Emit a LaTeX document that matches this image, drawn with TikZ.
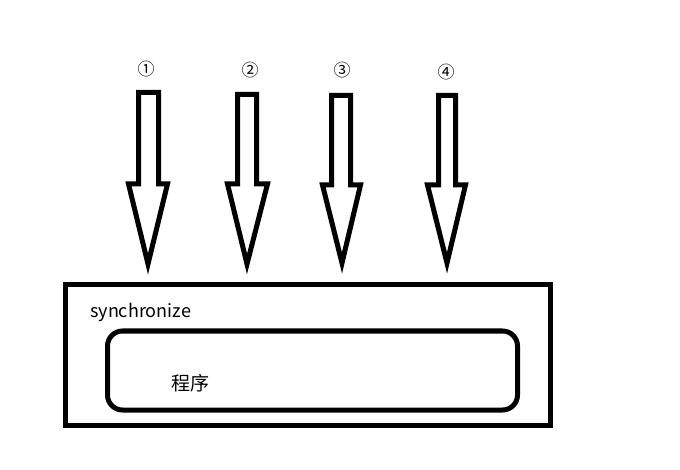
\documentclass[tikz,border=0pt]{standalone}
\usepackage{fontspec}
\setmainfont{Noto Sans CJK SC}
\begin{document}
\begin{tikzpicture}[x=1pt,y=-1pt,
  thick line/.style={line width=5pt},
  arrowshape/.style={thick line, line join=miter, miter limit=10},
  numlabel/.style={font=\fontsize{17}{17}\selectfont, inner sep=0pt},
  boxlabel/.style={font=\fontsize{18}{18}\selectfont, inner sep=0pt, anchor=base west},
  cjklabel/.style={font=\fontsize{19}{19}\selectfont, inner sep=0pt, anchor=base west}]
\useasboundingbox (0,0) rectangle (680,470);
% arrows: shaft left, shaft right, top, shoulder, head left, head right, tip x, tip y
\foreach \sl/\sr/\tp/\sh/\hl/\hr/\tx/\ty in {
  138.5/158.5/92.5/184/128.5/167.5/148/264,
  237.5/256.5/94.5/184/227.5/267.5/247/264,
  331.5/350.5/95.5/185/322.5/360.5/342/263,
  438.5/455.5/95.5/185/427.5/465.5/447/263}{
  \draw[arrowshape] (\sl,\tp) -- (\sr,\tp) -- (\sr,\sh) -- (\hr,\sh) -- (\tx,\ty)
     -- (\hl,\sh) -- (\sl,\sh) -- cycle;
}
\node[numlabel] (n1) at (146,69) {①};
\node[numlabel] (n2) at (250,70) {②};
\node[numlabel] (n3) at (342,70) {③};
\node[numlabel] (n4) at (446,72) {④};
% boxes
\draw[thick line] (65,284.5) rectangle (550,425.5);
\draw[thick line, rounded corners=15pt] (107.5,331) rectangle (517.5,410);
\node[boxlabel] (sync) at (90,318) {synchronize};
\node[cjklabel] (prog) at (171,390) {程序};
\end{tikzpicture}
\end{document}
